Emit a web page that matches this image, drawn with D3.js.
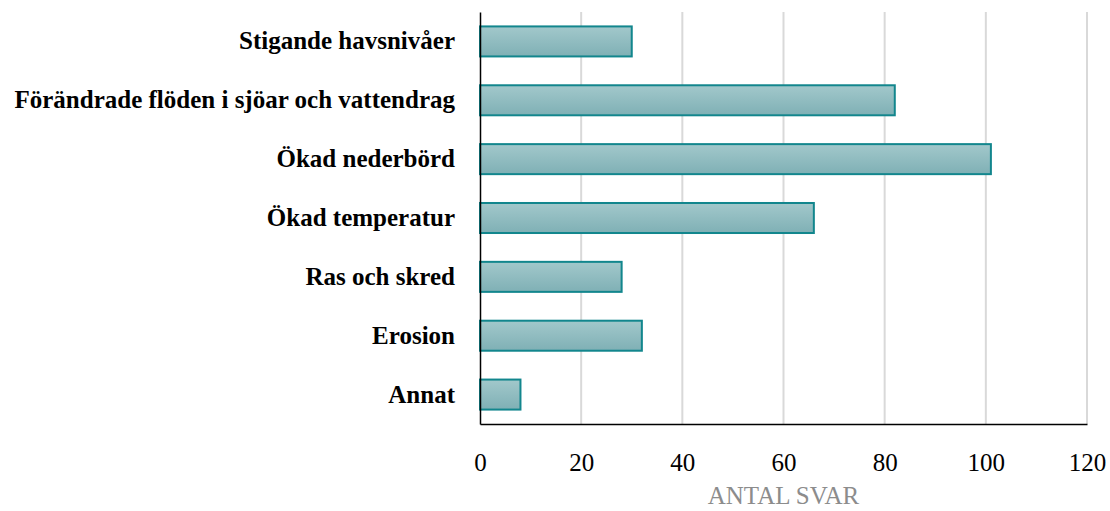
<!DOCTYPE html>
<html>
<head>
<meta charset="utf-8">
<script src="https://cdn.jsdelivr.net/npm/d3@7"></script>
<style>
  html, body { margin: 0; padding: 0; background: #fff; }
  svg { display: block; }
</style>
</head>
<body>
<svg id="chart" width="1110" height="511"></svg>
<script>
// Responses per climate effect
const categories = [
  "Stigande havsnivåer",
  "Förändrade flöden i sjöar och vattendrag",
  "Ökad nederbörd",
  "Ökad temperatur",
  "Ras och skred",
  "Erosion",
  "Annat"
];
const counts = [30, 82, 101, 66, 28, 32, 8];
const xTicks = [0, 20, 40, 60, 80, 100, 120];
const xTitle = "ANTAL SVAR";

const svg = d3.select("#chart");
const margin = { left: 480, right: 23, top: 12, bottom: 87 };
const W = 1110, H = 511;

const x = d3.scaleLinear().domain([0, 120]).range([margin.left, W - margin.right]);
const y = d3.scaleBand().domain(categories).range([margin.top, H - margin.bottom]).paddingInner(0.49).paddingOuter(0.245);

const font = "'Liberation Serif', 'DejaVu Serif', serif";

// bar gradient
const defs = svg.append("defs");
const grad = defs.append("linearGradient").attr("id", "barFill")
  .attr("x1", 0).attr("y1", 0).attr("x2", 0).attr("y2", 1);
grad.append("stop").attr("offset", "0%").attr("stop-color", "#a2c8cb");
grad.append("stop").attr("offset", "100%").attr("stop-color", "#7fb0b5");

// vertical gridlines
svg.append("g").selectAll("line").data(xTicks.filter(d => d > 0)).join("line")
  .attr("x1", d => x(d)).attr("x2", d => x(d))
  .attr("y1", margin.top).attr("y2", H - margin.bottom)
  .attr("stroke", "#d9d9d9").attr("stroke-width", 2);

// bars
svg.append("g").selectAll("rect").data(categories).join("rect")
  .attr("x", x(0))
  .attr("y", d => y(d))
  .attr("width", (d, i) => x(counts[i]) - x(0))
  .attr("height", y.bandwidth())
  .attr("fill", "url(#barFill)")
  .attr("stroke", "#12868d")
  .attr("stroke-width", 2);

// x axis
const xAxis = d3.axisBottom(x).tickValues(xTicks).tickSize(0).tickPadding(0);
const gx = svg.append("g").attr("transform", `translate(0,${H - margin.bottom})`).call(xAxis);
gx.select(".domain").attr("stroke", "#000").attr("stroke-width", 1.5);
gx.selectAll(".tick text")
  .attr("dy", null).attr("y", 47)
  .attr("font-family", font).attr("font-size", 25).attr("fill", "#000");

// y axis
const yAxis = d3.axisLeft(y).tickSize(0).tickPadding(25);
const gy = svg.append("g").attr("transform", `translate(${margin.left},0)`).call(yAxis);
gy.select(".domain").attr("stroke", "#000").attr("stroke-width", 1.5);
gy.selectAll("text").attr("font-family", font).attr("font-size", 25).attr("font-weight", "bold").attr("fill", "#000");

// axis title
svg.append("text")
  .attr("x", (x(0) + x(120)) / 2).attr("y", 504)
  .attr("text-anchor", "middle")
  .attr("font-family", font).attr("font-size", 25).attr("fill", "#8c8c8c")
  .text(xTitle);
</script>
</body>
</html>
